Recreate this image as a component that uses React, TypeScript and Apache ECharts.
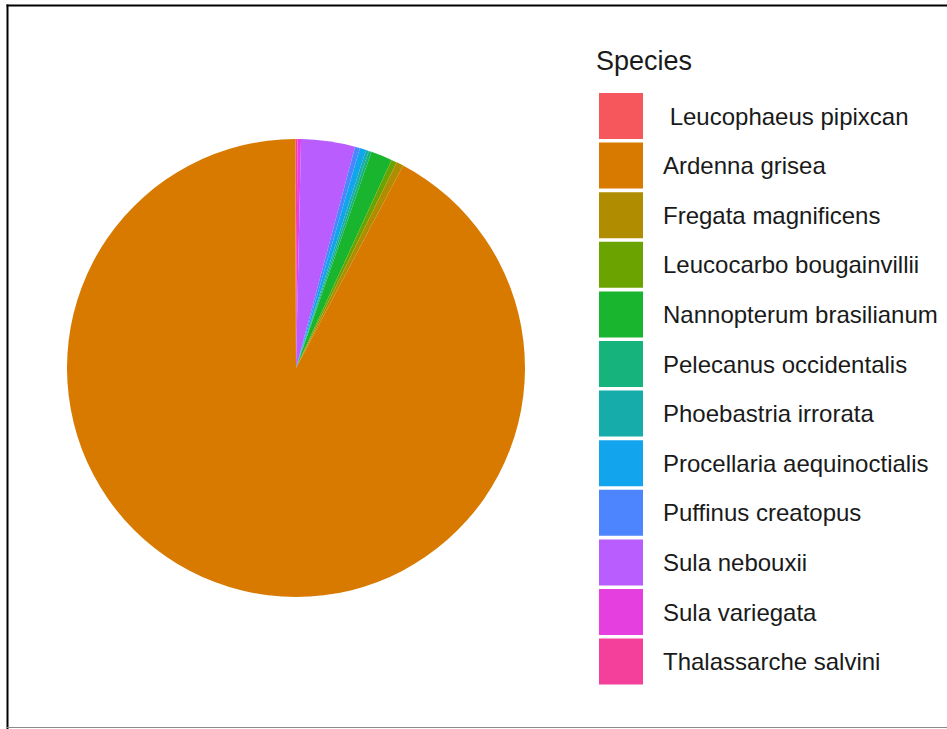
import React, { useEffect, useRef } from "react";
import * as echarts from "echarts";

// Slice order as drawn clockwise from 12 o'clock
const sliceNames = [
  "Thalassarche salvini",
  "Sula variegata",
  "Sula nebouxii",
  "Puffinus creatopus",
  "Procellaria aequinoctialis",
  "Phoebastria irrorata",
  "Pelecanus occidentalis",
  "Nannopterum brasilianum",
  "Leucocarbo bougainvillii",
  "Fregata magnificens",
  "Ardenna grisea",
  "\u00a0Leucophaeus pipixcan",
];
const sliceValues = [0.1, 0.25, 3.8, 0.35, 0.45, 0.2, 0.2, 1.5, 0.4, 0.5, 92.2, 0.05];
const sliceColors = [
  "#F43F9B",
  "#E53FE0",
  "#B95DFF",
  "#4D85FF",
  "#13A4EE",
  "#15ACAA",
  "#16B37C",
  "#1AB52E",
  "#6BA300",
  "#B08D00",
  "#D87A00",
  "#F5575C",
];
// Legend order (factor levels)
const legendOrder = [
  "\u00a0Leucophaeus pipixcan",
  "Ardenna grisea",
  "Fregata magnificens",
  "Leucocarbo bougainvillii",
  "Nannopterum brasilianum",
  "Pelecanus occidentalis",
  "Phoebastria irrorata",
  "Procellaria aequinoctialis",
  "Puffinus creatopus",
  "Sula nebouxii",
  "Sula variegata",
  "Thalassarche salvini",
];
const legendTitle = "Species";

export default function App() {
  const ref = useRef<HTMLDivElement>(null);
  useEffect(() => {
    if (!ref.current) return;
    const chart = echarts.init(ref.current, null, { renderer: "svg" });
    const fontFamily = "'Liberation Sans', Arial, sans-serif";
    chart.setOption({
      animation: false,
      backgroundColor: "#ffffff",
      title: {
        text: legendTitle,
        left: 596,
        top: 47,
        padding: 0,
        textStyle: { fontFamily, fontSize: 27, fontWeight: "normal", color: "#1a1a1a" },
      },
      legend: {
        orient: "vertical",
        left: 599,
        top: 93,
        padding: 0,
        itemWidth: 44,
        itemHeight: 46,
        itemGap: 3.6,
        icon: "rect",
        data: legendOrder,
        selectedMode: false,
        itemStyle: { borderWidth: 0 },
        textStyle: {
          fontFamily,
          fontSize: 24,
          color: "#1a1a1a",
          padding: [0, 0, 0, 15],
        },
      },
      graphic: [
        { type: "line", shape: { x1: 7.5, y1: 4.5, x2: 7.5, y2: 729 }, style: { stroke: "#000", lineWidth: 2 } },
        { type: "line", shape: { x1: 6.5, y1: 5.5, x2: 947, y2: 5.5 }, style: { stroke: "#000", lineWidth: 2 } },
        { type: "line", shape: { x1: 6.5, y1: 727.5, x2: 947, y2: 727.5 }, style: { stroke: "#8a8a8a", lineWidth: 1 } },
      ],
      series: [
        {
          type: "pie",
          center: [296, 368],
          radius: [0, 229],
          startAngle: 90,
          clockwise: true,
          label: { show: false },
          labelLine: { show: false },
          emphasis: { disabled: true },
          itemStyle: { borderWidth: 0 },
          data: sliceNames.map((n, i) => ({
            name: n,
            value: sliceValues[i],
            itemStyle: { color: sliceColors[i] },
          })),
        },
      ],
    });
    return () => chart.dispose();
  }, []);
  return (
    <div
      ref={ref}
      style={{ position: "fixed", left: 0, top: 0, width: 947, height: 729 }}
    />
  );
}
